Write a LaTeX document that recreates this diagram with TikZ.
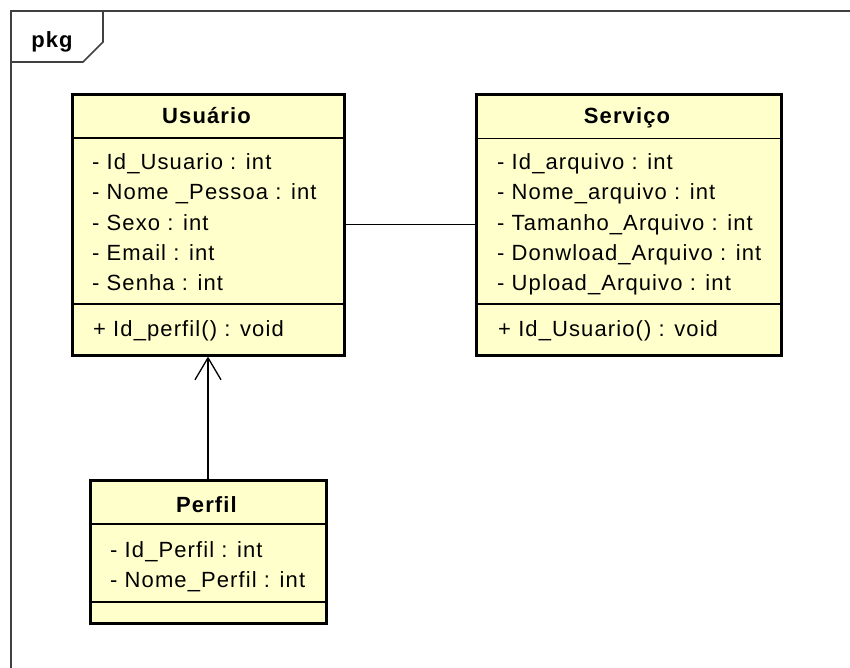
\documentclass[tikz,border=0pt]{standalone}
\usepackage{fontspec}
\setmainfont{Liberation Sans}[LetterSpace=5]
\usetikzlibrary{arrows.meta}
\definecolor{classfill}{HTML}{FFFFCC}
\definecolor{framegray}{HTML}{404040}

\begin{document}
\begin{tikzpicture}[x=1pt,y=-1pt,
  classbox/.style={draw=black, line width=3pt, fill=classfill, inner sep=0pt,
    anchor=north west},
  sepline/.style={line width=1.3pt},
  member/.style={anchor=base west, inner sep=0pt, font=\fontsize{22}{26}\selectfont},
  classname/.style={anchor=base, inner sep=0pt, font=\fontsize{22}{26}\selectfont\bfseries},
  assoc/.style={line width=1.3pt},
  framebox/.style={draw=framegray, line width=1.6pt}
]
\useasboundingbox (0,0) rectangle (850,668);
\clip (0,0) rectangle (850,668);

% package frame and its tab
\draw[framebox] (11,11) rectangle (900,720);
\draw[framebox] (11,62) -- (83,62) -- (103,42) -- (103,11);
\node[classname] (pkglabel) at (52,48) {pkg};

% class Usuario
\node[classbox, minimum width=272pt, minimum height=260.5pt] (usuario) at (70.5,93) {};
\draw[sepline] (70.5,138) -- (342.5,138);
\draw[sepline] (70.5,304) -- (342.5,304);
\node[classname] (usuarioname) at (206.5,124) {Usuário};
\node[member] (u1) at (92,170) {- Id\_Usuario : int};
\node[member] (u2) at (92,200) {- Nome \_Pessoa : int};
\node[member] (u3) at (92,230) {- Sexo : int};
\node[member] (u4) at (92,260) {- Email : int};
\node[member] (u5) at (92,290) {- Senha : int};
\node[member] (u6) at (93,336.5) {+ Id\_perfil() : void};

% class Servico
\node[classbox, minimum width=305pt, minimum height=260.5pt] (servico) at (474.5,93) {};
\draw[sepline] (474.5,138.5) -- (779.5,138.5);
\draw[sepline] (474.5,304) -- (779.5,304);
\node[classname] (serviconame) at (627,124) {Serviço};
\node[member] (s1) at (497,170) {- Id\_arquivo : int};
\node[member] (s2) at (497,200) {- Nome\_arquivo : int};
\node[member] (s3) at (497,230) {- Tamanho\_Arquivo : int};
\node[member] (s4) at (497,260) {- Donwload\_Arquivo : int};
\node[member] (s5) at (497,290) {- Upload\_Arquivo : int};
\node[member] (s6) at (498,336.5) {+ Id\_Usuario() : void};

% class Perfil
\node[classbox, minimum width=236pt, minimum height=143pt] (perfil) at (88.5,478.5) {};
\draw[sepline] (88.5,524) -- (324.5,524);
\draw[sepline] (88.5,602) -- (324.5,602);
\node[classname] (perfilname) at (206.5,512) {Perfil};
\node[member] (p1) at (110,557) {- Id\_Perfil : int};
\node[member] (p2) at (110,587) {- Nome\_Perfil : int};

% relations
\draw[assoc] (usuario) -- (servico);
\draw[assoc, -{Straight Barb[length=22pt,width=26pt,line width=1.3pt]}] (perfil) -- (usuario);
\end{tikzpicture}
\end{document}
